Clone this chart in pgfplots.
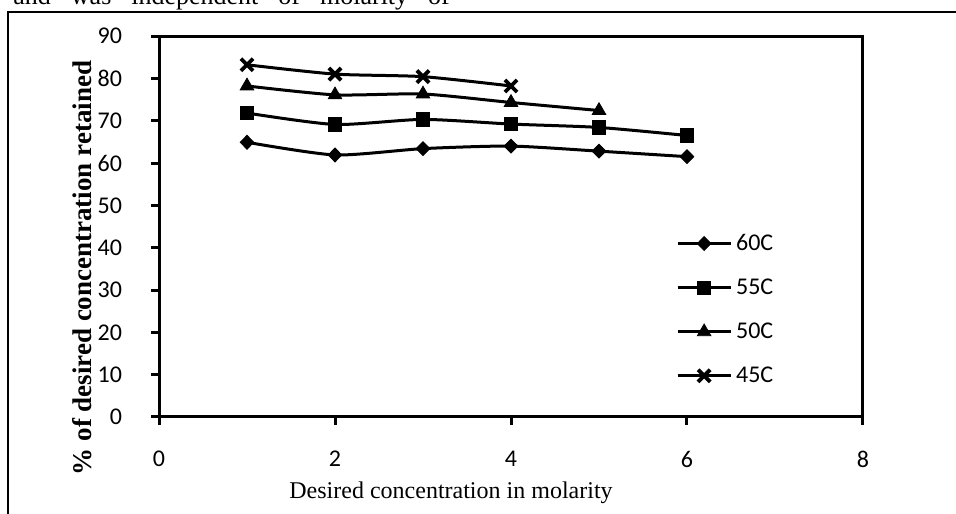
\documentclass[border=0pt]{standalone}
\usepackage{fontspec}
\setmainfont{Liberation Serif}
\newfontfamily\calibri{Carlito}
\usepackage{pgfplots}
\pgfplotsset{compat=1.18}

\begin{document}
\begin{tikzpicture}
% page is 956x513 px at 0.5pt per px
\clip (0,0) rectangle (478pt,256.5pt);
\useasboundingbox (0,0) rectangle (478pt,256.5pt);

% cut-off body text above the figure
\node[anchor=base west, inner sep=0pt, font=\fontsize{13}{15}\selectfont]
  at (6.5pt,254.3pt) {and\hspace{10pt}was\hspace{10pt}independent\hspace{10pt}of\hspace{10pt}molarity\hspace{10pt}of};

% chart frame
\draw[line width=1pt] (4pt,-5pt) -- (4pt,250.5pt) -- (490pt,250.5pt);

\begin{axis}[
  at={(79.5pt,48pt)}, anchor=south west,
  scale only axis,
  width=352pt, height=190.5pt,
  xmin=0, xmax=8, ymin=0, ymax=90,
  xtick={0,2,...,8}, ytick={0,10,...,90},
  xtick pos=bottom, ytick pos=left,
  tick align=outside, major tick length=4pt,
  axis line style={line width=1.5pt},
  tick style={line width=1.5pt, black},
  /pgf/number format/assume math mode=true,
  tick label style={font=\calibri\fontsize{12}{14}\selectfont},
  yticklabel={\pgfmathprintnumber{\tick}\hspace*{11pt}},
  xticklabel shift=9.5pt,
  every axis plot/.append style={black, line width=1.5pt, smooth, tension=0.4},
  legend style={draw=none, fill=none, at={(0.734,0.492)}, anchor=north west,
    font=\calibri\fontsize{12}{14}\selectfont, row sep=8.7pt, inner sep=0pt},
  legend cell align=left,
  legend image code/.code={\draw[mark repeat=2,mark phase=2,#1]
    plot coordinates {(0pt,0pt) (13.25pt,0pt) (26.5pt,0pt)};},
]
\addplot[mark=diamond*, mark size=3.5pt, mark options={solid, fill=black, line width=0.4pt, xscale=1.3}]
  coordinates {(1,64.9) (2,61.9) (3,63.4) (4,64.0) (5,62.8) (6,61.5)};
\addlegendentry{60C}
\addplot[mark=square*, mark size=3.3pt, mark options={solid, fill=black, line width=0.4pt}]
  coordinates {(1,71.8) (2,69.1) (3,70.3) (4,69.2) (5,68.4) (6,66.5)};
\addlegendentry{55C}
\addplot[mark=triangle*, mark size=3.9pt, mark options={solid, fill=black, line width=0.4pt}]
  coordinates {(1,78.2) (2,76.1) (3,76.3) (4,74.3) (5,72.4)};
\addlegendentry{50C}
\addplot[mark=x, mark size=4.3pt, mark options={solid, line width=1.9pt}]
  coordinates {(1,83.2) (2,81.0) (3,80.4) (4,78.2)};
\addlegendentry{45C}
\end{axis}

\node[rotate=90, font=\bfseries\fontsize{13.5}{15}\selectfont] at (41pt,122.5pt)
  {\% of desired concentration retained};
\node[anchor=base, font=\fontsize{12}{14}\selectfont] at (225.5pt,7.5pt)
  {Desired concentration in molarity};
\end{tikzpicture}
\end{document}
